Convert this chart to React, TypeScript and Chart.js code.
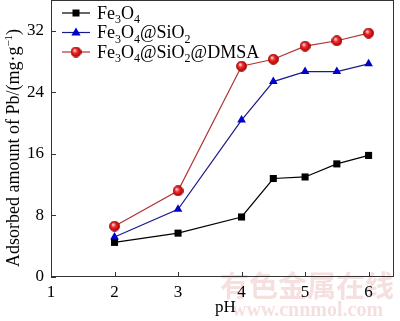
import React, { useEffect, useRef } from 'react';
import { Chart, registerables } from 'chart.js';
Chart.register(...registerables);

const phValues = [2, 3, 4, 4.5, 5, 5.5, 6];
const fe3o4 = [4.5, 5.7, 7.8, 12.8, 13.0, 14.7, 15.8];
const fe3o4SiO2 = [5.2, 8.8, 20.4, 25.4, 26.7, 26.7, 27.7];
const fe3o4SiO2DMSA = [6.6, 11.2, 27.4, 28.3, 30.0, 30.7, 31.7];
const seriesNames = ['Fe_3O_4', 'Fe_3O_4@SiO_2', 'Fe_3O_4@SiO_2@DMSA'];
const xTicks = [1, 2, 3, 4, 5, 6];
const yTicks = [0, 8, 16, 24, 32];
const xTitle = 'pH';
const yTitleMain = 'Adsorbed amount of Pb/(mg·g';
const yTitleSup = '−1';
const yTitleEnd = ')';
const watermarkCn = '有色金属在线';
const watermarkEn = 'www.cnnmol.com';

const SERIF = '"Liberation Serif", "Times New Roman", serif';

function makeSphere(): HTMLCanvasElement {
  const c = document.createElement('canvas');
  c.width = 11;
  c.height = 11;
  const g = c.getContext('2d')!;
  const grad = g.createRadialGradient(4, 3.8, 0.5, 5.5, 5.5, 5.5);
  grad.addColorStop(0, '#ffd0d0');
  grad.addColorStop(0.35, '#f03030');
  grad.addColorStop(0.85, '#c00000');
  grad.addColorStop(1, '#800000');
  g.fillStyle = grad;
  g.beginPath();
  g.arc(5.5, 5.5, 5, 0, Math.PI * 2);
  g.fill();
  g.strokeStyle = '#900000';
  g.lineWidth = 0.8;
  g.stroke();
  return c;
}

function drawRich(ctx: CanvasRenderingContext2D, text: string, x: number, y: number, size: number) {
  let cx = x;
  let i = 0;
  while (i < text.length) {
    if (text[i] === '_' && i + 1 < text.length) {
      ctx.font = `${Math.round(size * 0.68)}px ${SERIF}`;
      ctx.fillText(text[i + 1], cx, y + size * 0.25);
      cx += ctx.measureText(text[i + 1]).width;
      i += 2;
    } else {
      let j = i;
      while (j < text.length && text[j] !== '_') j++;
      const seg = text.slice(i, j);
      ctx.font = `${size}px ${SERIF}`;
      ctx.fillText(seg, cx, y);
      cx += ctx.measureText(seg).width;
      i = j;
    }
  }
}

export default function App() {
  const ref = useRef<HTMLCanvasElement>(null);
  useEffect(() => {
    const sphere = makeSphere();
    const lineColors = ['#000000', '#1a1a8c', '#b03434'];
    const markerColors = ['#000000', '#0000d0', '#e02020'];

    const decor = {
      id: 'decor',
      beforeDraw(chart: any) {
        const ctx = chart.ctx;
        ctx.save();
        ctx.fillStyle = 'rgba(225, 150, 150, 0.30)';
        ctx.font = `bold 29px "Noto Sans CJK SC", sans-serif`;
        ctx.textBaseline = 'middle';
        ctx.textAlign = 'left';
        ctx.fillText(watermarkCn, 220, 286);
        ctx.font = `bold 20px ${SERIF}`;
        ctx.fillText(watermarkEn, 232, 311);
        ctx.restore();
      },
      afterDraw(chart: any) {
        const ctx = chart.ctx;
        const a = chart.chartArea;
        const xs = chart.scales.x;
        const ys = chart.scales.y;
        ctx.save();
        ctx.strokeStyle = '#333';
        ctx.lineWidth = 1;
        ctx.strokeRect(Math.round(a.left) + 0.5, Math.round(a.top) + 0.5, Math.round(a.right - a.left) - 1, Math.round(a.bottom - a.top) - 1);
        ctx.beginPath();
        xTicks.forEach((v) => {
          const px = Math.round(xs.getPixelForValue(v)) + 0.5;
          ctx.moveTo(px, a.bottom);
          ctx.lineTo(px, a.bottom - 5);
        });
        yTicks.forEach((v) => {
          const py = Math.round(ys.getPixelForValue(v)) + 0.5;
          ctx.moveTo(a.left, py);
          ctx.lineTo(a.left + 5, py);
        });
        ctx.stroke();

        ctx.fillStyle = '#000';
        ctx.font = `17px ${SERIF}`;
        ctx.textAlign = 'center';
        ctx.textBaseline = 'alphabetic';
        ctx.fillText(xTitle, (a.left + a.right) / 2 + 3, 312);

        ctx.save();
        ctx.translate(19, 148);
        ctx.rotate(-Math.PI / 2);
        ctx.textAlign = 'left';
        const big = 18;
        const small = 11;
        ctx.font = `${big}px ${SERIF}`;
        const w1 = ctx.measureText(yTitleMain).width;
        const w3 = ctx.measureText(yTitleEnd).width;
        ctx.font = `${small}px ${SERIF}`;
        const w2 = ctx.measureText(yTitleSup).width;
        let x0 = -(w1 + w2 + w3) / 2;
        ctx.font = `${big}px ${SERIF}`;
        ctx.fillText(yTitleMain, x0, 0);
        x0 += w1;
        ctx.font = `${small}px ${SERIF}`;
        ctx.fillText(yTitleSup, x0, -7);
        x0 += w2;
        ctx.font = `${big}px ${SERIF}`;
        ctx.fillText(yTitleEnd, x0, 0);
        ctx.restore();

        const rows = [13, 32.5, 52];
        chart.data.datasets.forEach((ds: any, i: number) => {
          const y = rows[i];
          ctx.strokeStyle = lineColors[i];
          ctx.lineWidth = 1.2;
          ctx.beginPath();
          ctx.moveTo(62, y);
          ctx.lineTo(90, y);
          ctx.stroke();
          const cx = 76;
          if (i === 0) {
            ctx.fillStyle = markerColors[0];
            ctx.fillRect(cx - 3.5, y - 3.5, 7, 7);
          } else if (i === 1) {
            ctx.fillStyle = markerColors[1];
            ctx.beginPath();
            ctx.moveTo(cx, y - 5);
            ctx.lineTo(cx + 4.6, y + 3);
            ctx.lineTo(cx - 4.6, y + 3);
            ctx.closePath();
            ctx.fill();
          } else {
            ctx.drawImage(sphere, cx - 5.5, y - 5.5);
          }
          ctx.fillStyle = '#000';
          ctx.textAlign = 'left';
          ctx.textBaseline = 'alphabetic';
          drawRich(ctx, seriesNames[i], 97, y + 5.5, 18);
        });
        ctx.restore();
      },
    };

    const toPts = (arr: number[]) => phValues.map((x, i) => ({ x, y: arr[i] }));

    const chart = new Chart(ref.current!, {
      type: 'line',
      data: {
        datasets: [
          {
            label: seriesNames[0],
            data: toPts(fe3o4),
            borderColor: lineColors[0],
            borderWidth: 1.2,
            pointStyle: 'rect',
            pointRadius: 5,
            pointBackgroundColor: markerColors[0],
            pointBorderColor: markerColors[0],
            pointBorderWidth: 0,
          },
          {
            label: seriesNames[1],
            data: toPts(fe3o4SiO2),
            borderColor: lineColors[1],
            borderWidth: 1.2,
            pointStyle: 'triangle',
            pointRadius: 5,
            pointBackgroundColor: markerColors[1],
            pointBorderColor: markerColors[1],
            pointBorderWidth: 0,
          },
          {
            label: seriesNames[2],
            data: toPts(fe3o4SiO2DMSA),
            borderColor: lineColors[2],
            borderWidth: 1.2,
            pointStyle: sphere as any,
            pointRadius: 5,
          },
        ],
      },
      options: {
        animation: false,
        responsive: false,
        events: [],
        layout: { autoPadding: false, padding: { top: 0, right: 6, left: 0, bottom: 0 } },
        plugins: { legend: { display: false }, tooltip: { enabled: false } },
        scales: {
          x: {
            type: 'linear',
            min: 1,
            max: 6.4,
            grid: { display: false, drawTicks: false },
            border: { display: false },
            afterBuildTicks: (s: any) => {
              s.ticks = xTicks.map((v) => ({ value: v }));
            },
            afterFit: (s: any) => {
              s.height = 44;
              s.paddingLeft = 0;
              s.paddingRight = 0;
              s.paddingTop = 0;
              s.paddingBottom = 0;
            },
            ticks: {
              color: '#000',
              padding: 5,
              maxRotation: 0,
              autoSkip: false,
              font: { family: SERIF, size: 17 },
            },
          },
          y: {
            type: 'linear',
            min: 0,
            max: 36,
            grid: { display: false, drawTicks: false },
            border: { display: false },
            afterBuildTicks: (s: any) => {
              s.ticks = yTicks.map((v) => ({ value: v }));
            },
            afterFit: (s: any) => {
              s.width = 51;
              s.paddingLeft = 0;
              s.paddingRight = 0;
              s.paddingTop = 0;
              s.paddingBottom = 0;
            },
            ticks: {
              color: '#000',
              padding: 7,
              font: { family: SERIF, size: 17 },
            },
          },
        },
      },
      plugins: [decor],
    });
    return () => chart.destroy();
  }, []);

  return (
    <div style={{ position: 'absolute', left: 0, top: 0, width: 400, height: 321, background: '#fff' }}>
      <canvas ref={ref} width={400} height={321} style={{ display: 'block', width: 400, height: 321 }} />
    </div>
  );
}
